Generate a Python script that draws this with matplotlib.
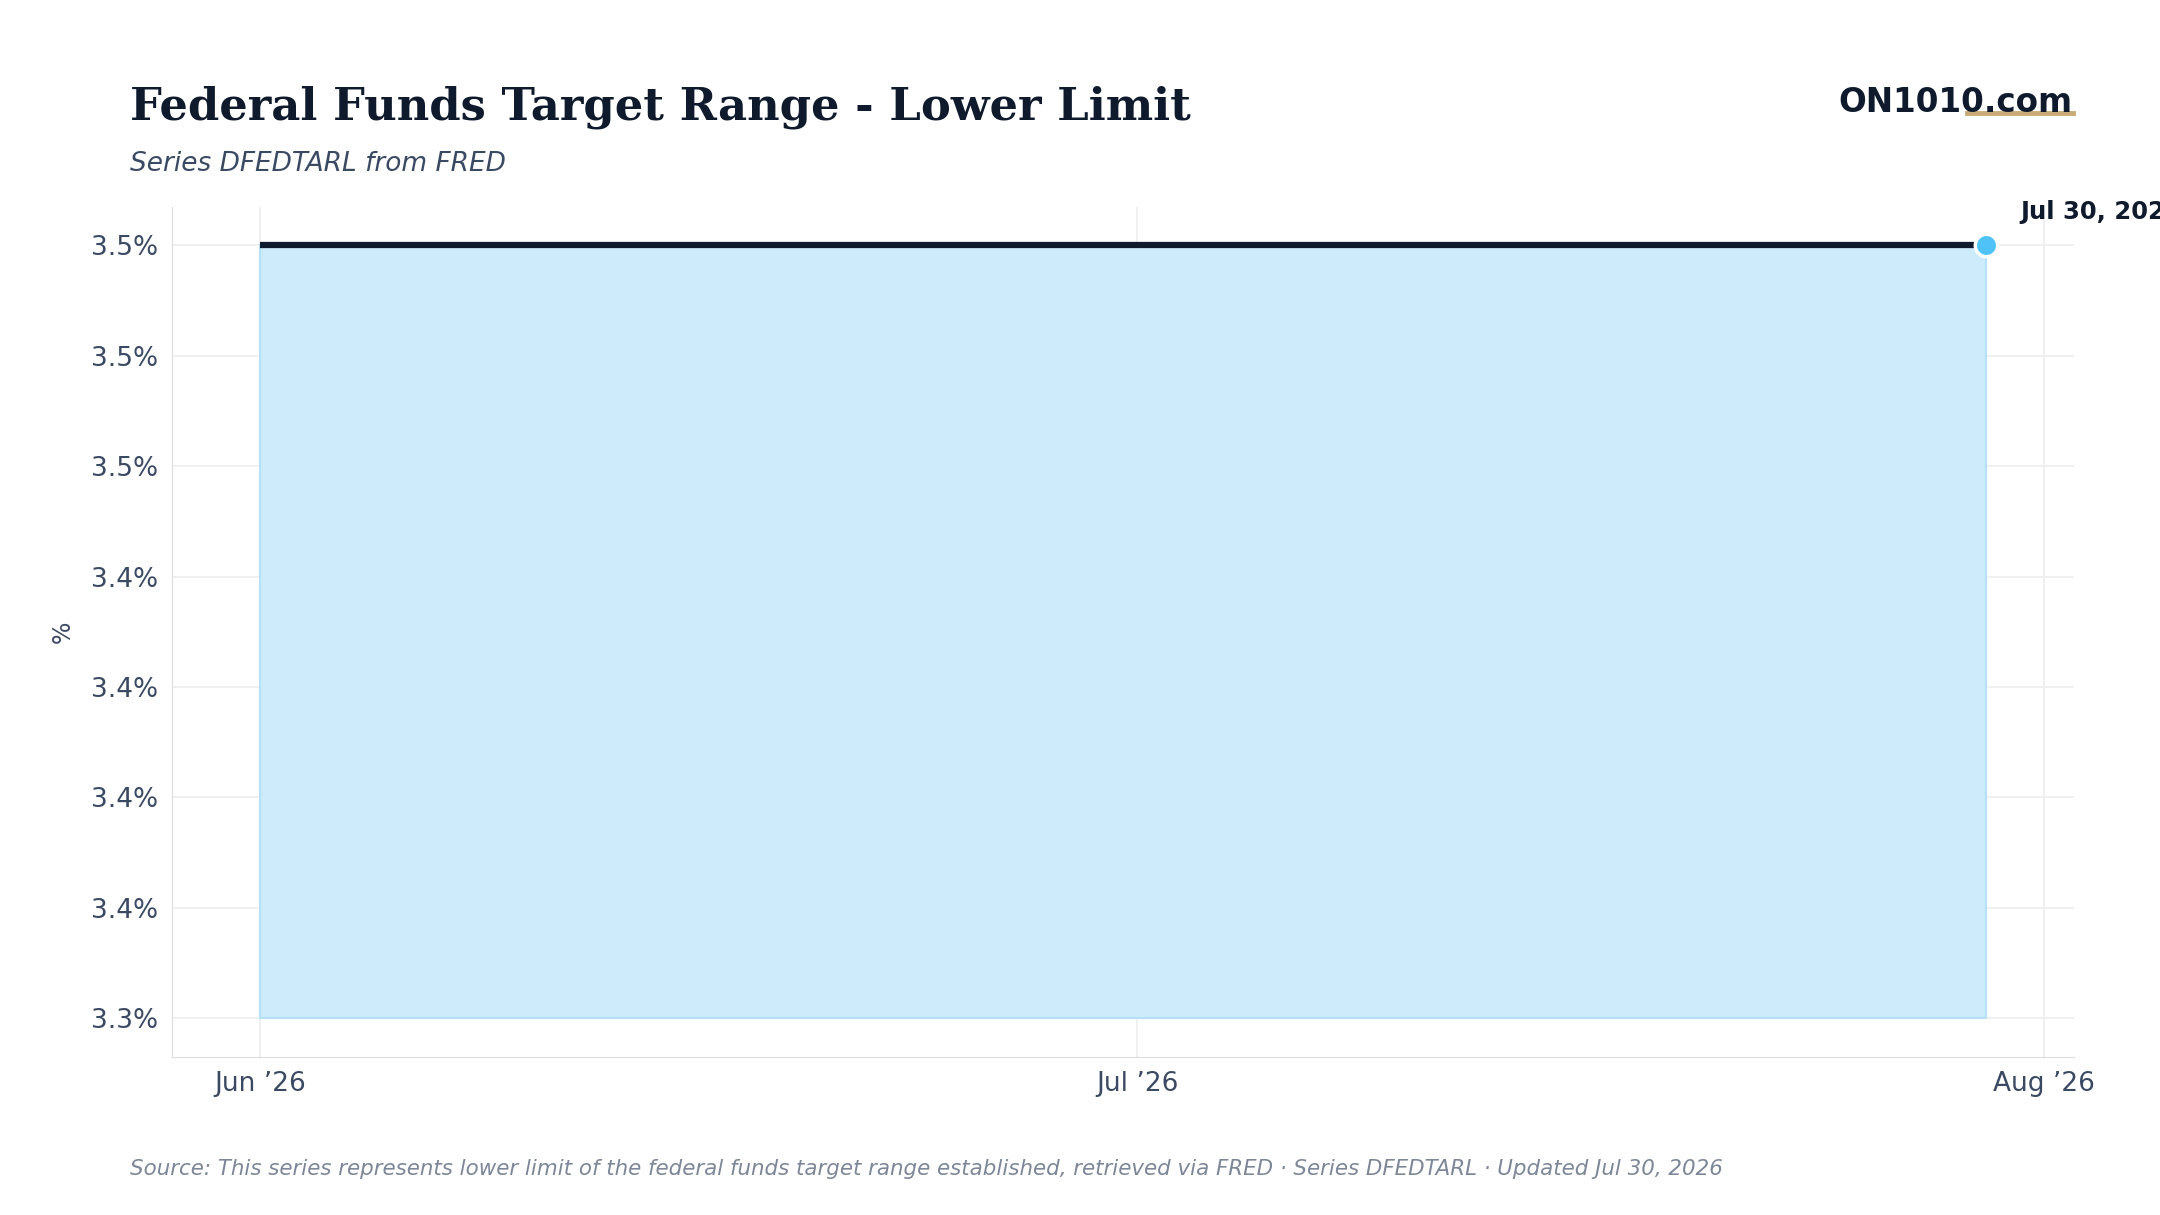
import matplotlib
matplotlib.use('Agg')
import matplotlib.pyplot as plt
import pandas as pd

# series DFEDTARL, daily, flat at 3.50
dates = pd.date_range('2026-06-01', '2026-07-30', freq='D')
values = [3.5] * len(dates)
fill_base = 3.3

y_ticks = [3.3 + i * 0.2 / 7 for i in range(8)]
y_labels = ['3.3%', '3.4%', '3.4%', '3.4%', '3.4%', '3.5%', '3.5%', '3.5%']
x_ticks = pd.to_datetime(['2026-06-01', '2026-07-01', '2026-08-01'])
x_labels = ['Jun \u201926', 'Jul \u201926', 'Aug \u201926']

fig = plt.figure(figsize=(21.6, 12.15), dpi=100)
ax = fig.add_axes([0.0796, 0.130, 0.8804, 0.700])

ax.fill_between(dates, fill_base, values, color='#cdebfb', edgecolor='#b5e0f7', linewidth=1.5, zorder=1)
ax.plot(dates, values, color='#0f1b2d', linewidth=4.5, zorder=3, solid_capstyle='butt')
ax.scatter([dates[-1]], [values[-1]], s=260, color='#4fc3f7', edgecolor='white', linewidth=2.5, zorder=4)
ax.annotate('Jul 30, 2026: 3.50%', (dates[-1], values[-1]), xytext=(25, 19), textcoords='offset points',
            fontsize=17.5, fontweight='bold', color='#0f1b2d', annotation_clip=False)

ax.set_xlim(pd.Timestamp('2026-05-29'), pd.Timestamp('2026-08-02'))
ax.set_ylim(3.29, 3.51)
ax.set_yticks(y_ticks)
ax.set_yticklabels(y_labels)
ax.set_xticks(x_ticks)
ax.set_xticklabels(x_labels)
ax.tick_params(labelsize=19, colors='#3b4a63', length=0, pad=10)
ax.grid(True, color='#eeeeee', linewidth=1.2, zorder=0)
ax.set_axisbelow(True)
for side in ['top', 'right']:
    ax.spines[side].set_visible(False)
for side in ['left', 'bottom']:
    ax.spines[side].set_color('#dddddd')
ax.set_ylabel('%', fontsize=17, color='#3b4a63', labelpad=12)

fig.text(0.060, 0.912, 'Federal Funds Target Range - Lower Limit', fontsize=32.3, fontweight='bold',
         family='DejaVu Serif', color='#0f1b2d', va='center')
fig.text(0.060, 0.865, 'Series DFEDTARL from FRED', fontsize=19, style='italic', color='#3b4a63', va='center')
fig.text(0.9595, 0.916, 'ON1010.com', fontsize=23.5, fontweight='bold', color='#0f1b2d', ha='right', va='center')
fig.add_artist(plt.Line2D([0.9105, 0.9595], [0.907, 0.907], color='#c8ab78', linewidth=3.5))
fig.text(0.060, 0.038, 'Source: This series represents lower limit of the federal funds target range established, '
         'retrieved via FRED \u00b7 Series DFEDTARL \u00b7 Updated Jul 30, 2026',
         fontsize=15.4, style='italic', color='#7d8798', va='center')

fig.savefig('out.png', dpi=100)
